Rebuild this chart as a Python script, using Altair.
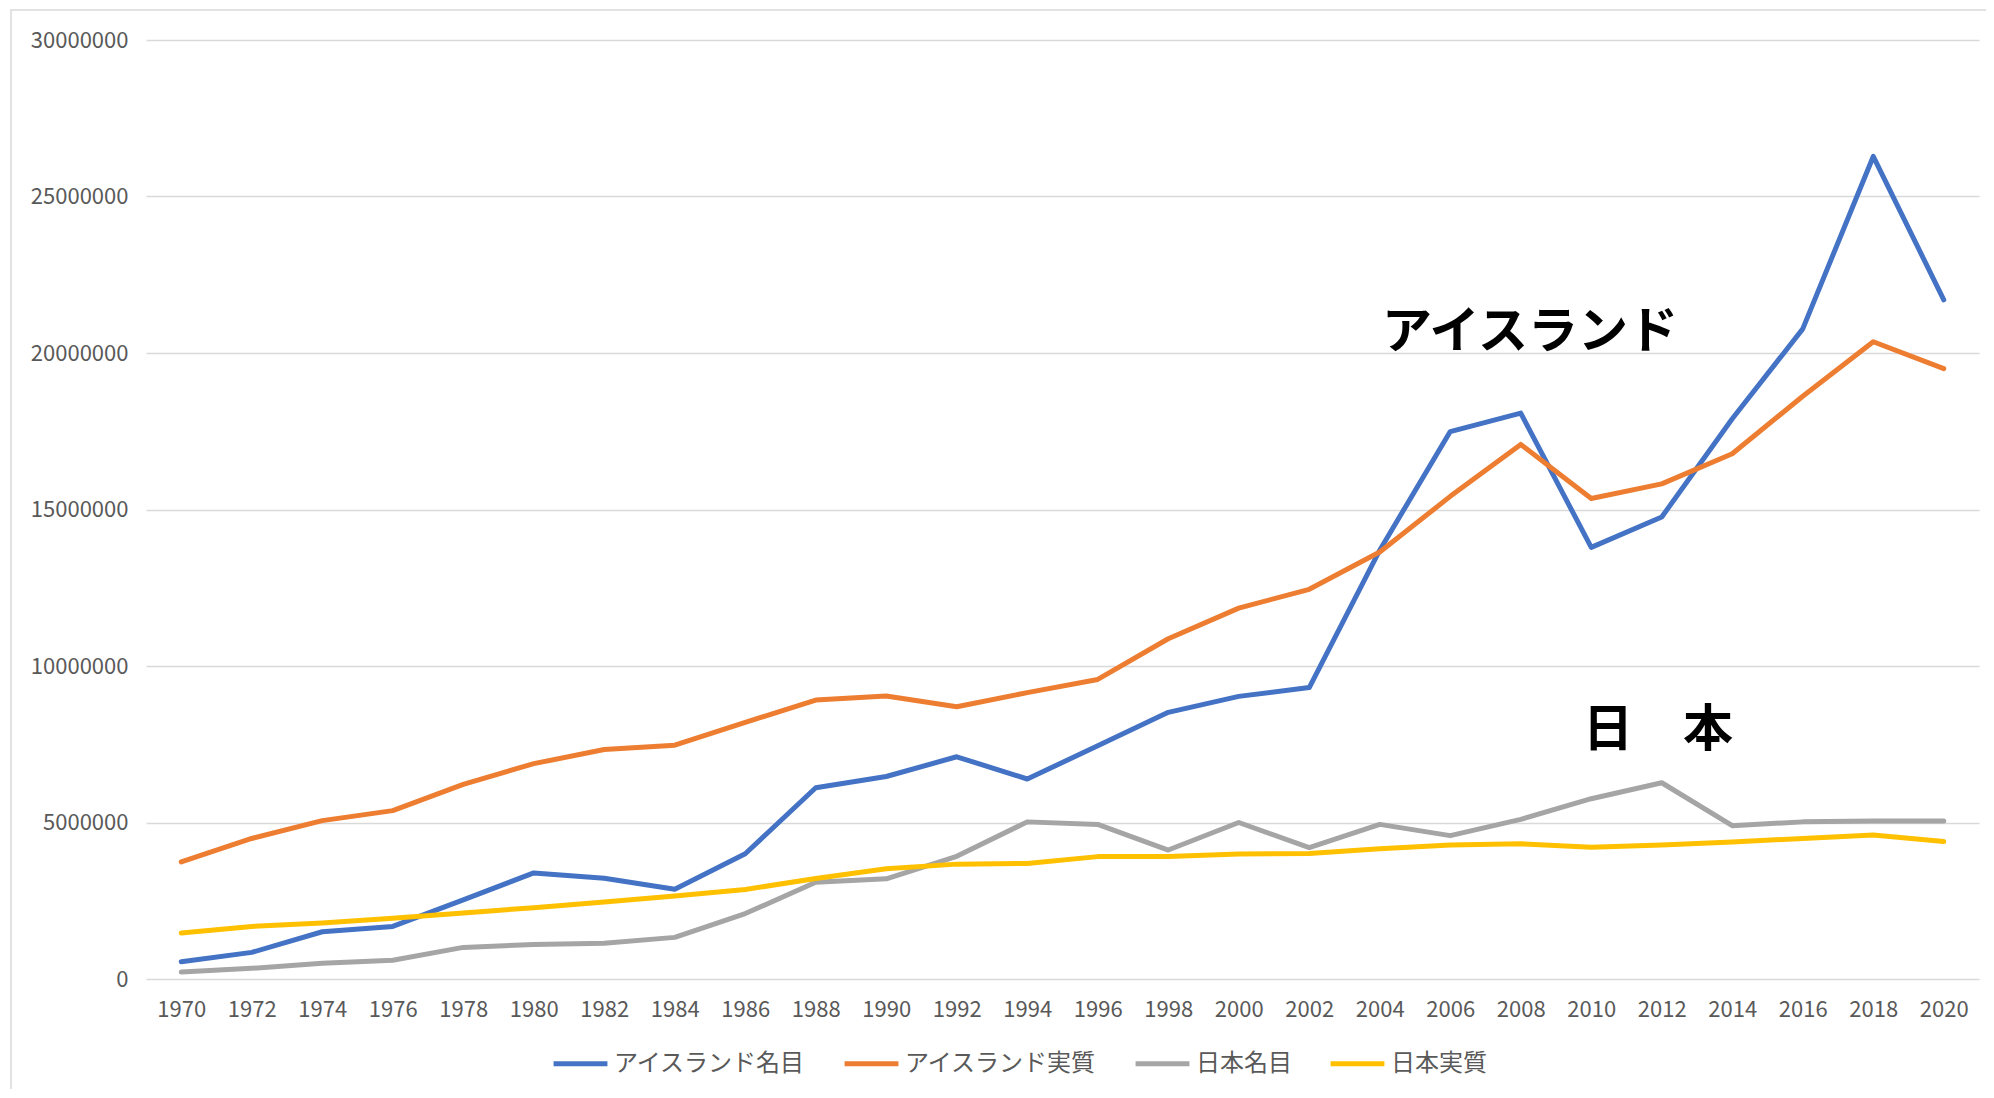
import altair as alt
import pandas as pd

years = list(range(1970, 2021, 2))

iceland_nominal = [0.55, 0.85, 1.51, 1.68, 2.53, 3.39, 3.22, 2.87, 4.00, 6.11, 6.47, 7.10, 6.39,
                   7.45, 8.52, 9.03, 9.31, 13.70, 17.49, 18.08, 13.79, 14.76, 17.90, 20.77, 26.28, 21.70]
iceland_real = [3.74, 4.49, 5.06, 5.38, 6.22, 6.88, 7.33, 7.47, 8.20, 8.91, 9.04, 8.70, 9.15,
                9.57, 10.87, 11.85, 12.45, 13.64, 15.42, 17.08, 15.35, 15.82, 16.78, 18.62, 20.36, 19.50]
japan_nominal = [0.22, 0.34, 0.50, 0.60, 1.01, 1.10, 1.14, 1.33, 2.09, 3.09, 3.20, 3.92, 5.02,
                 4.94, 4.12, 5.00, 4.20, 4.94, 4.58, 5.10, 5.76, 6.27, 4.90, 5.02, 5.05, 5.05]
japan_real = [1.47, 1.68, 1.79, 1.94, 2.11, 2.28, 2.46, 2.65, 2.86, 3.21, 3.52, 3.67, 3.69,
              3.91, 3.91, 3.99, 4.01, 4.16, 4.28, 4.32, 4.21, 4.28, 4.38, 4.49, 4.60, 4.39]

series_names = ["アイスランド名目", "アイスランド実質", "日本名目", "日本実質"]
series_colors = ["#4472C4", "#ED7D31", "#A5A5A5", "#FFC000"]
y_ticks = [0, 5000000, 10000000, 15000000, 20000000, 25000000, 30000000]

annot_iceland = ["アイスランド"]
annot_japan = ["日　本"]

rows = []
for name, vals in zip(series_names, [iceland_nominal, iceland_real, japan_nominal, japan_real]):
    for yr, v in zip(years, vals):
        rows.append({"year": str(yr), "value": v * 1e6, "series": name,
                     "order": series_names.index(name)})
df = pd.DataFrame(rows)

FONT = "Noto Sans CJK JP"
W, H = 1833, 939

lines = alt.Chart(df).mark_line(strokeWidth=5, strokeCap="round", strokeJoin="round").encode(
    x=alt.X("year:O", sort=[str(y) for y in years],
            scale=alt.Scale(type="point", padding=0.5),
            axis=alt.Axis(title=None, labelAngle=0, ticks=False, domain=False, grid=False,
                          labelFont=FONT, labelFontSize=22, labelColor="#595959",
                          labelPadding=20)),
    y=alt.Y("value:Q", scale=alt.Scale(domain=[0, 30000000], nice=False),
            axis=alt.Axis(title=None, values=y_ticks, format="d", ticks=False, domain=False,
                          grid=True, gridColor="#D9D9D9", gridWidth=1.5,
                          labelFont=FONT, labelFontSize=22, labelColor="#595959",
                          labelPadding=18)),
    color=alt.Color("series:N", sort=series_names,
                    scale=alt.Scale(domain=series_names, range=series_colors),
                    legend=alt.Legend(title=None, orient="none", direction="horizontal",
                                      legendX=405, legendY=994,
                                      symbolType="stroke", symbolStrokeWidth=5,
                                      symbolSize=2900, labelFont=FONT, labelFontSize=24,
                                      labelColor="#595959", labelOffset=4, labelLimit=400,
                                      columnPadding=28)),
    detail="series:N",
    order="order:Q",
)

text_ice = alt.Chart(pd.DataFrame({"t": annot_iceland})).mark_text(
    font=FONT, fontSize=50, fontWeight="bold", color="#000000", align="center", baseline="middle"
).encode(text="t:N", x=alt.value(1384), y=alt.value(293))

text_jp = alt.Chart(pd.DataFrame({"t": annot_japan})).mark_text(
    font=FONT, fontSize=50, fontWeight="bold", color="#000000", align="center", baseline="middle"
).encode(text="t:N", x=alt.value(1512), y=alt.value(691))

border = alt.Chart(pd.DataFrame({"a": [0]})).mark_rect(
    fillOpacity=0, stroke="#D9D9D9", strokeWidth=1.5
).encode(x=alt.value(-135), x2=alt.value(1860), y=alt.value(-30), y2=alt.value(1080))

chart = alt.layer(border, lines, text_ice, text_jp).properties(
    width=W, height=H,
    background="white",
    autosize=alt.AutoSizeParams(type="none"),
    padding={"left": 138, "top": 32, "right": 7, "bottom": 110},
).configure_view(strokeWidth=0, stroke="transparent")

chart.save("out.html", embed_options={"renderer": "svg", "actions": False})
